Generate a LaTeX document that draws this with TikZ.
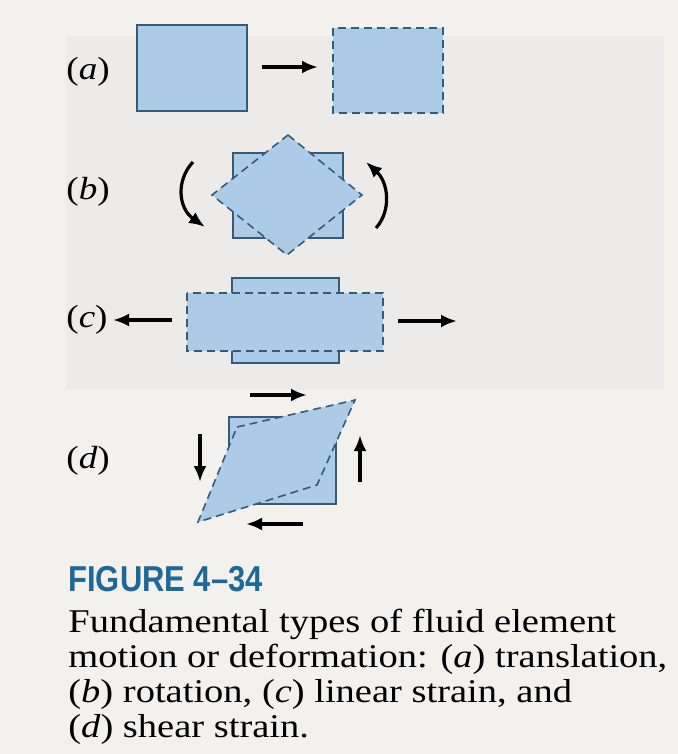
\documentclass[tikz,border=0pt]{standalone}
\usepackage{fontspec}
\setmainfont{Liberation Serif}
\newfontfamily\figfont{Liberation Sans}
\usetikzlibrary{arrows.meta}
\definecolor{paper}{RGB}{243,241,238}
\definecolor{shadow}{RGB}{237,235,233}
\definecolor{elemfill}{RGB}{172,203,230}
\definecolor{elemline}{RGB}{52,92,120}
\definecolor{figblue}{RGB}{28,104,152}
\newcommand{\wider}[1]{\scalebox{1.16}[1]{#1}}

\begin{document}
\begin{tikzpicture}[x=0.5pt, y=-0.5pt,
                    elem/.style={fill=elemfill, draw=elemline, line width=0.8pt},
                    moved/.style={elem, dash pattern=on 4pt off 2.5pt},
                    push/.style={-{Latex[length=8pt,width=6.5pt]}, line width=1.6pt},
                    turn/.style={-{Latex[length=8pt,width=6.5pt]}, line width=1.6pt},
                    tag/.style={anchor=base west, inner sep=0pt, font=\fontsize{16}{18}\selectfont},
                    capline/.style={anchor=base west, inner sep=0pt, font=\fontsize{16.6}{18}\selectfont}]
        % page
        \fill[paper] (0,0) rectangle (678,754);
        \fill[shadow] (66,36) rectangle (664,390);
        \useasboundingbox (0,0) rectangle (678,754);
        % (a) translation
        \node[tag] (lab-a) at (66,80) {\wider{(\textit{a})}};
        \filldraw[elem] (137,25) rectangle (247,111);
        \coordinate (a-from) at (262,67);
        \coordinate (a-to) at (318,67);
        \draw[push] (a-from) -- (a-to);
        \filldraw[moved] (333,28) rectangle (443,113);
        % (b) rotation
        \node[tag] (lab-b) at (66,199) {\wider{(\textit{b})}};
        \filldraw[elem] (233,153) rectangle (343,238);
        \filldraw[moved] (288,135) -- (362,195) -- (287,255) -- (212,195) -- cycle;
        \coordinate (b-l1) at (193,162);
        \coordinate (b-l2) at (205,227);
        \coordinate (b-r1) at (376,228);
        \coordinate (b-r2) at (366,162);
        \draw[turn] (b-l1) .. controls (176,180) and (178,208) .. (b-l2);
        \draw[turn] (b-r1) .. controls (392,210) and (388,182) .. (b-r2);
        % (c) linear strain
        \node[tag] (lab-c) at (66,327) {\wider{(\textit{c})}};
        \filldraw[elem] (232,278) rectangle (339,363);
        \filldraw[moved] (187,293) rectangle (383,351);
        \coordinate (c-l1) at (172,320);
        \coordinate (c-l2) at (113,320);
        \coordinate (c-r1) at (398,321);
        \coordinate (c-r2) at (457,321);
        \draw[push] (c-l1) -- (c-l2);
        \draw[push] (c-r1) -- (c-r2);
        % (d) shear strain
        \node[tag] (lab-d) at (66,468) {\wider{(\textit{d})}};
        \filldraw[elem] (229,417) rectangle (336,504);
        \filldraw[moved] (237,427) -- (355,400) -- (317,485) -- (198,522) -- cycle;
        \coordinate (d-t1) at (250,395);
        \coordinate (d-t2) at (307,395);
        \coordinate (d-b1) at (303,524);
        \coordinate (d-b2) at (246,524);
        \coordinate (d-l1) at (200,434);
        \coordinate (d-l2) at (200,482);
        \coordinate (d-r1) at (360,482);
        \coordinate (d-r2) at (360,435);
        \draw[push] (d-t1) -- (d-t2);
        \draw[push] (d-b1) -- (d-b2);
        \draw[push] (d-l1) -- (d-l2);
        \draw[push] (d-r1) -- (d-r2);
        % caption
        \node[anchor=base west, inner sep=0pt, text=figblue,
              font=\figfont\bfseries\fontsize{18}{20}\selectfont] (fig) at (68,591)
              {\scalebox{0.86}[1]{FIGURE 4\textendash 34}};
        \node[capline] (cap1) at (68,632) {\wider{Fundamental types of fluid element}};
        \node[capline] (cap2) at (68,667) {\wider{motion or deformation: (\textit{a}) translation,}};
        \node[capline] (cap3) at (68,702) {\wider{(\textit{b}) rotation, (\textit{c}) linear strain, and}};
        \node[capline] (cap4) at (68,737) {\wider{(\textit{d}) shear strain.}};
    \end{tikzpicture}
\end{document}
